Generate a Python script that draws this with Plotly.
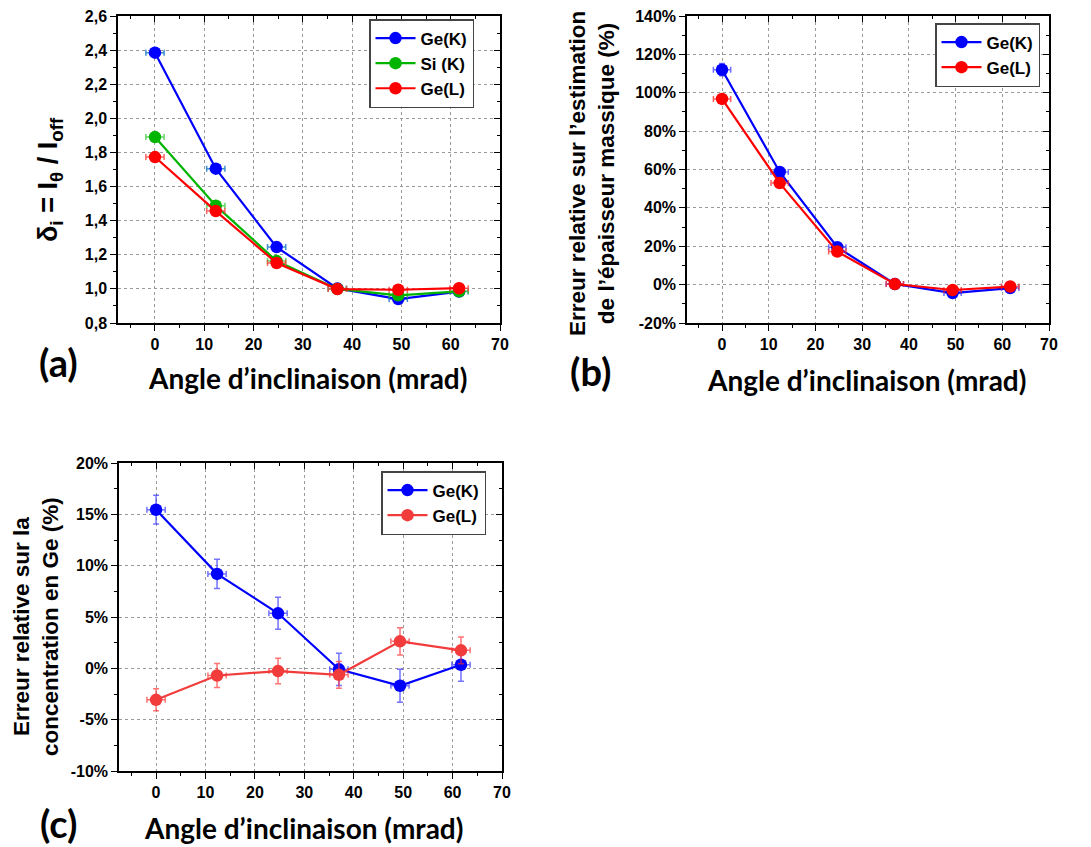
import plotly.graph_objects as go

W, H = 1091, 847

# ---------------- data ----------------
angle = [0, 12.34, 24.68, 37.0, 49.36, 61.7]
angle_err = [1.85, 1.85, 1.85, 1.85, 1.85, 1.85]

# panel (a): delta_i = I_theta / I_off
a_geK = [2.385, 1.705, 1.245, 1.003, 0.94, 0.984]
a_siK = [1.89, 1.488, 1.163, 1.0, 0.962, 0.986]
a_geL = [1.773, 1.456, 1.152, 0.999, 0.995, 1.004]

# panel (b): relative error on mass thickness (%)
b_geK = [112.0, 58.7, 19.5, 0.3, -4.4, -1.8]
b_geK_err = [3.2, 1.5, 1.2, 1.0, 1.0, 1.0]
b_geL = [96.8, 52.9, 17.2, 0.3, -2.8, -1.0]
b_geL_err = [1.0, 1.0, 1.0, 1.0, 1.0, 1.0]

# panel (c): relative error on Ge concentration (%)
c_geK = [15.45, 9.2, 5.36, -0.1, -1.7, 0.35]
c_geK_err = [1.4, 1.43, 1.56, 1.56, 1.6, 1.6]
c_geL = [-3.07, -0.7, -0.27, -0.63, 2.63, 1.75]
c_geL_err = [1.07, 1.17, 1.24, 1.3, 1.33, 1.3]

# tick labels
x_tickvals = [0, 10, 20, 30, 40, 50, 60, 70]
x_ticktext = ["0", "10", "20", "30", "40", "50", "60", "70"]
a_tickvals = [0.8, 1.0, 1.2, 1.4, 1.6, 1.8, 2.0, 2.2, 2.4, 2.6]
a_ticktext = ["0,8", "1,0", "1,2", "1,4", "1,6", "1,8", "2,0", "2,2", "2,4", "2,6"]
b_tickvals = [-20, 0, 20, 40, 60, 80, 100, 120, 140]
b_ticktext = ["-20%", "0%", "20%", "40%", "60%", "80%", "100%", "120%", "140%"]
c_tickvals = [-10, -5, 0, 5, 10, 15, 20]
c_ticktext = ["-10%", "-5%", "0%", "5%", "10%", "15%", "20%"]

BLUE = "#0000ff"
GREEN = "#00b400"
RED = "#ff0000"

TICKFONT = dict(family="Liberation Sans, Arial, sans-serif", size=16, color="black", weight="bold")
LEGFONT = dict(family="Liberation Sans, Arial, sans-serif", size=17, color="black", weight="bold")
TITLEFONT = dict(family="Lato, Open Sans, sans-serif", size=28, color="black", weight="bold")

fig = go.Figure()


def add_series(x, y, name, color, xa, ya, legend, errx_col, erry=None, erry_col=None, line_col=None):
    tr = dict(
        x=x, y=y, name=name, mode="lines+markers",
        xaxis=xa, yaxis=ya, legend=legend,
        line=dict(color=line_col or color, width=2.2),
        marker=dict(color=line_col or color, size=12.5, symbol="circle"),
        error_x=dict(type="data", array=angle_err, color=errx_col, thickness=1.5, width=3),
    )
    if erry is not None:
        tr["error_y"] = dict(type="data", array=erry, color=erry_col or errx_col, thickness=1.5, width=3)
    fig.add_trace(go.Scatter(**tr))


# panel (a)
add_series(angle, a_geK, "Ge(K)", BLUE, "x", "y", "legend", "rgba(40,130,200,0.9)")
add_series(angle, a_siK, "Si (K)", GREEN, "x", "y", "legend", "rgba(60,200,60,0.8)")
add_series(angle, a_geL, "Ge(L)", RED, "x", "y", "legend", "rgba(255,60,60,0.8)")

# panel (b)
add_series(angle, b_geK, "Ge(K)", BLUE, "x3", "y3", "legend2", "rgba(60,60,255,0.75)", b_geK_err)
add_series(angle, b_geL, "Ge(L)", RED, "x3", "y3", "legend2", "rgba(255,40,40,0.75)", b_geL_err)

# panel (c)
add_series(angle, c_geK, "Ge(K)", BLUE, "x5", "y5", "legend3", "rgba(40,40,255,0.65)", c_geK_err)
add_series(angle, c_geL, "Ge(L)", RED, "x5", "y5", "legend3", "rgba(255,40,40,0.65)", c_geL_err,
           line_col="#f23c3c")

# invisible traces so the mirror axes are drawn
for xa, ya in [("x2", "y2"), ("x4", "y4"), ("x6", "y6")]:
    fig.add_trace(go.Scatter(x=[None], y=[None], xaxis=xa, yaxis=ya, showlegend=False, hoverinfo="skip"))

XR = [-7.5, 70]

panels = [
    ((118, 500), (16, 323), [0.8, 2.6], a_tickvals, a_ticktext, 0.1, ("", "2")),
    ((687, 1049), (16, 323), [-20, 140], b_tickvals, b_ticktext, 10, ("3", "4")),
    ((119, 502), (463, 771), [-10, 20], c_tickvals, c_ticktext, 2.5, ("5", "6")),
]

layout = dict(
    width=W, height=H, margin=dict(l=0, r=0, t=0, b=0, autoexpand=False),
    paper_bgcolor="white", plot_bgcolor="white", showlegend=True,
)

for (xd, yd, yr, tv, tt, ymin, (m, o)) in panels:
    xdom = [xd[0] / W, xd[1] / W]
    ydom = [1 - yd[1] / H, 1 - yd[0] / H]
    xm = "x" + m
    ym = "y" + m
    layout["xaxis" + m] = dict(
        domain=xdom, range=XR, anchor=ym, tickvals=x_tickvals, ticktext=x_ticktext,
        ticks="outside", ticklen=6, tickwidth=1.3, tickcolor="black",
        minor=dict(ticks="outside", ticklen=3, dtick=5, tick0=0, tickcolor="black", showgrid=False),
        showline=True, linecolor="black", linewidth=1.5,
        showgrid=True, gridcolor="#9a9a9a", griddash="dot", gridwidth=1,
        zeroline=False, tickfont=TICKFONT, fixedrange=True, automargin=False,
    )
    layout["yaxis" + m] = dict(
        domain=ydom, range=yr, anchor=xm, tickvals=tv, ticktext=tt,
        ticks="outside", ticklen=6, tickwidth=1.3, tickcolor="black",
        minor=dict(ticks="outside", ticklen=3, dtick=ymin, tick0=tv[0], tickcolor="black", showgrid=False),
        showline=True, linecolor="black", linewidth=1.5,
        showgrid=True, gridcolor="#9a9a9a", griddash="dot", gridwidth=1,
        zeroline=False, tickfont=TICKFONT, fixedrange=True, automargin=False,
    )
    layout["xaxis" + o] = dict(
        domain=xdom, range=XR, anchor=ym, overlaying=xm, side="top",
        tickvals=x_tickvals, showticklabels=False,
        ticks="inside", ticklen=6, tickwidth=1.3, tickcolor="black",
        minor=dict(ticks="inside", ticklen=3, dtick=5, tick0=0, tickcolor="black", showgrid=False),
        showline=True, linecolor="black", linewidth=1.5, showgrid=False, zeroline=False,
        automargin=False,
    )
    layout["yaxis" + o] = dict(
        domain=ydom, range=yr, anchor=xm, overlaying=ym, side="right",
        tickvals=tv, showticklabels=False,
        ticks="inside", ticklen=6, tickwidth=1.3, tickcolor="black",
        minor=dict(ticks="inside", ticklen=3, dtick=ymin, tick0=tv[0], tickcolor="black", showgrid=False),
        showline=True, linecolor="black", linewidth=1.5, showgrid=False, zeroline=False,
        automargin=False,
    )

leg_common = dict(
    font=LEGFONT, bgcolor="white", bordercolor="#444444", borderwidth=1.5,
    xanchor="left", yanchor="top", tracegroupgap=0, itemwidth=40,
)
layout["legend"] = dict(x=369 / W, y=1 - 19 / H, **leg_common)
layout["legend2"] = dict(x=935 / W, y=1 - 23 / H, **leg_common)
layout["legend3"] = dict(x=381 / W, y=1 - 471 / H, **leg_common)

fig.update_layout(**layout)


def ann(text, xp, yp, font, angle=0):
    fig.add_annotation(text=text, x=xp / W, y=1 - yp / H, xref="paper", yref="paper",
                       showarrow=False, xanchor="center", yanchor="middle",
                       textangle=angle, font=font)


ATITLE = "Angle d’inclinaison (mrad)"
ann(ATITLE, 307, 378, TITLEFONT)
ann(ATITLE, 866, 380, TITLEFONT)
ann(ATITLE, 303, 828, TITLEFONT)

LABELFONT = dict(family="Lato, Open Sans, sans-serif", size=38, color="black", weight="bold")
ann("(a)", 58, 362, LABELFONT)
ann("(b)", 590, 371, LABELFONT)
ann("(c)", 58, 823, LABELFONT)

YFONT_A = dict(family="Liberation Sans, Arial, sans-serif", size=27, color="black", weight="bold")
ann("δ<sub>i</sub> = I<sub>θ</sub> / I<sub>off</sub>", 50, 180, YFONT_A, -90)

YFONT_B = dict(family="Liberation Sans, Arial, sans-serif", size=22.5, color="black", weight="bold")
ann("Erreur relative sur l’estimation<br>de l’épaisseur massique (%)", 592, 174, YFONT_B, -90)
ann("Erreur relative sur la<br>concentration en Ge (%)", 36, 627, YFONT_B, -90)

fig.write_html("out.html", config={"displayModeBar": False},
               post_script="document.body.style.margin='0';document.body.style.padding='0';")
